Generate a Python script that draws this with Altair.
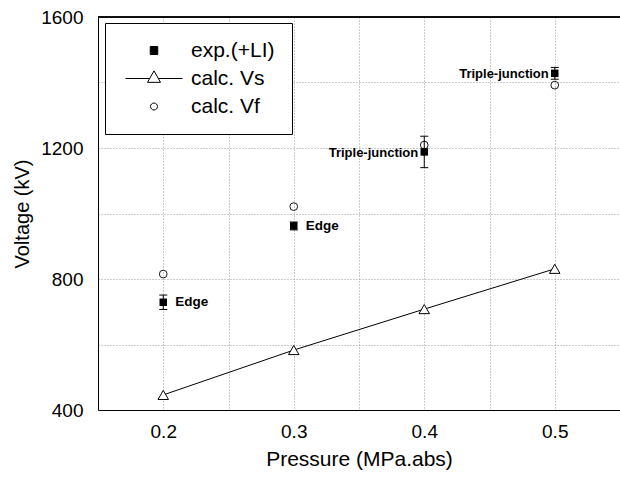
import altair as alt
import pandas as pd

# ---- data ----
pressure = [0.2, 0.3, 0.4, 0.5]
exp_v = [729, 962, 1188, 1428]
exp_err = [22, 12, 48, 18]
calc_vs = [446, 583, 708, 831]
calc_vf = [815, 1021, 1209, 1392]
notes = ["Edge", "Edge", "Triple-junction", "Triple-junction"]

series = ["exp.(+LI)", "calc. Vs", "calc. Vf"]
x_ticks = [0.2, 0.25, 0.3, 0.35, 0.4, 0.45, 0.5]
x_labels = [0.2, 0.3, 0.4, 0.5]
y_ticks = [400, 600, 800, 1000, 1200, 1400, 1600]
x_dom = [0.15, 0.55]
y_dom = [400, 1600]

df = pd.DataFrame({
    "p": pressure,
    "exp": exp_v,
    "lo": [v - e for v, e in zip(exp_v, exp_err)],
    "hi": [v + e for v, e in zip(exp_v, exp_err)],
    "vs": calc_vs,
    "vf": calc_vf,
    "note": notes,
})

FONT = "Liberation Sans"
lab_list = ",".join(str(v) for v in x_labels)

x_enc = alt.X(
    "p:Q",
    scale=alt.Scale(domain=x_dom, nice=False, zero=False),
    axis=alt.Axis(
        title="Pressure (MPa.abs)",
        titleFontSize=21,
        values=x_ticks,
        labelExpr=f"indexof([{lab_list}], datum.value) >= 0 ? format(datum.value, '.1f') : ''",
        ticks=False,
        labelPadding=12,
        titlePadding=7,
    ),
)
y_scale = alt.Scale(domain=y_dom, nice=False, zero=False)
y_axis = alt.Axis(
    title="Voltage (kV)",
    values=y_ticks,
    labelExpr="datum.value % 400 == 0 ? datum.label : ''",
    format="d",
    ticks=False,
    labelPadding=15,
    titlePadding=8,
)

base = alt.Chart(df)

top_border = base.mark_rule(color="black", strokeWidth=1).encode(
    y=alt.datum(y_dom[1], scale=y_scale, axis=y_axis)
)

vs_line = base.mark_line(color="black", strokeWidth=1).encode(
    x=x_enc, y=alt.Y("vs:Q", scale=y_scale, axis=y_axis)
)
vs_pts = base.mark_point(
    shape="triangle-up", size=110, filled=True, fill="white", stroke="black",
    strokeWidth=1, opacity=1
).encode(x=x_enc, y=alt.Y("vs:Q", scale=y_scale, axis=y_axis))

vf_pts = base.mark_point(
    shape="circle", size=60, filled=False, stroke="black", strokeWidth=0.9, opacity=1
).encode(x=x_enc, y=alt.Y("vf:Q", scale=y_scale, axis=y_axis))

err_rule = base.mark_rule(color="black", strokeWidth=1).encode(
    x=x_enc, y=alt.Y("lo:Q", scale=y_scale, axis=y_axis), y2="hi:Q"
)
cap_lo = base.mark_tick(orient="horizontal", size=8, thickness=1, color="black", opacity=1).encode(
    x=x_enc, y=alt.Y("lo:Q", scale=y_scale, axis=y_axis)
)
cap_hi = base.mark_tick(orient="horizontal", size=8, thickness=1, color="black", opacity=1).encode(
    x=x_enc, y=alt.Y("hi:Q", scale=y_scale, axis=y_axis)
)
exp_pts = base.mark_square(size=56, color="black", opacity=1).encode(
    x=x_enc, y=alt.Y("exp:Q", scale=y_scale, axis=y_axis)
)

edge_txt = base.transform_filter(alt.datum.note == "Edge").mark_text(
    align="left", baseline="middle", dx=12, font=FONT, fontSize=13.5,
    fontWeight="bold", color="black"
).encode(x=x_enc, y=alt.Y("exp:Q", scale=y_scale, axis=y_axis), text="note:N")
tj_txt = base.transform_filter(alt.datum.note == "Triple-junction").mark_text(
    align="right", baseline="middle", dx=-6, dy=1, font=FONT, fontSize=13,
    fontWeight="bold", color="black"
).encode(x=x_enc, y=alt.Y("exp:Q", scale=y_scale, axis=y_axis), text="note:N")

# ---- legend (built from the series names) ----
sq_path = "M-0.75,-0.8H0.75V0.8H-0.75Z"
tri_path = "M-5.7,0H-0.87M0.87,0H5.7M-1.3,0.77L0,-1.53L1.3,0.77Z"
circ_path = "M-0.7,0A0.7,0.7,0,1,1,0.7,0A0.7,0.7,0,1,1,-0.7,0Z"

legend = alt.Legend(
    title=None,
    orient="none",
    legendX=7,
    legendY=6,
    padding=17,
    strokeColor="black",
    fillColor="white",
    symbolSize=100,
    symbolOffset=21.5,
    labelOffset=26.5,
    rowPadding=6,
    symbolStrokeColor="black",
    symbolStrokeWidth=1,
    labelFont=FONT,
    labelFontSize=21,
    labelColor="black",
)
leg_df = pd.DataFrame({"series": series})
legend_layer = alt.Chart(leg_df).transform_filter("false").mark_point(
    strokeWidth=1, opacity=1
).encode(
    shape=alt.Shape("series:N", scale=alt.Scale(domain=series, range=[sq_path, tri_path, circ_path]),
                    legend=legend),
    fill=alt.Fill("series:N", scale=alt.Scale(domain=series, range=["black", "white", "white"]),
                  legend=legend),
    stroke=alt.Stroke("series:N", scale=alt.Scale(domain=series, range=["black", "black", "black"]),
                      legend=legend),
)

chart = alt.layer(
    top_border, vs_line, vs_pts, vf_pts, err_rule, cap_lo, cap_hi, exp_pts,
    edge_txt, tj_txt, legend_layer
).properties(
    width=522,
    height=393,
    autosize=alt.AutoSizeParams(type="none"),
    padding={"left": 98, "top": 17, "right": 0, "bottom": 67},
    background="white",
).configure_view(
    strokeWidth=0
).configure_axis(
    domainColor="black",
    domainWidth=1,
    grid=True,
    gridColor="#999999",
    gridDash=[1, 2],
    gridWidth=1,
    labelFont=FONT,
    labelFontSize=19,
    labelColor="black",
    titleFont=FONT,
    titleFontSize=20,
    titleFontWeight="normal",
    titleColor="black",
)

chart.save("out.html", embed_options={"renderer": "svg", "actions": False})
